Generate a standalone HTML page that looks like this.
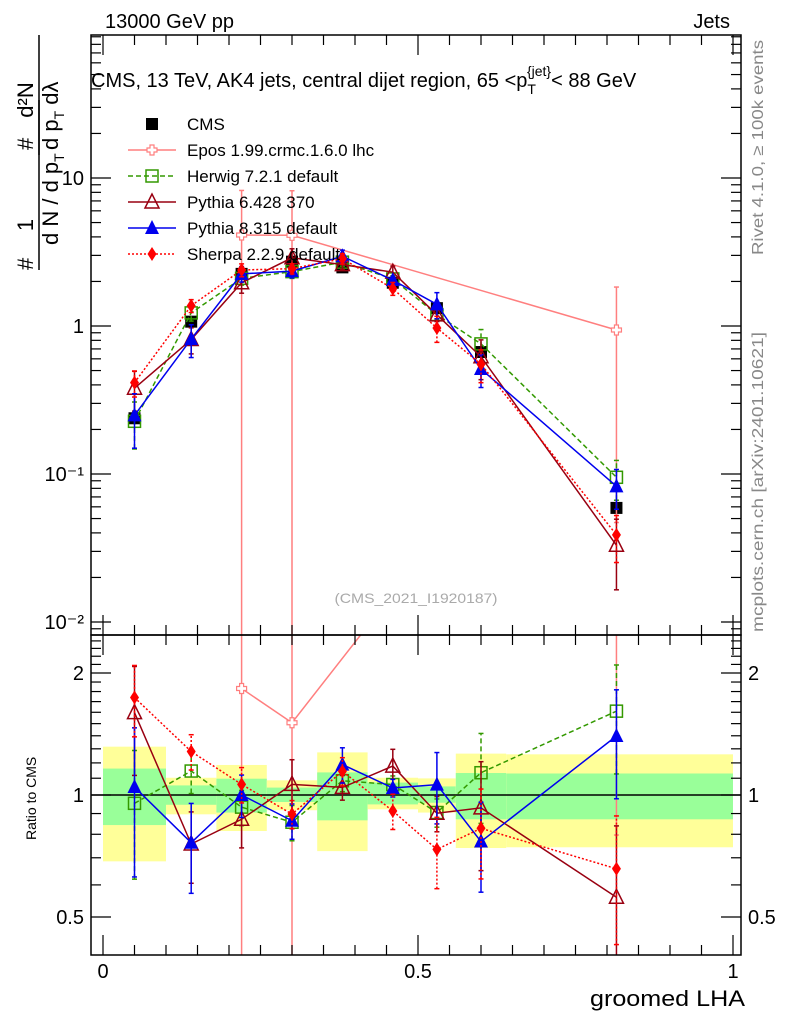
<!DOCTYPE html>
<html><head><meta charset="utf-8"><style>
html,body{margin:0;background:#fff;width:786px;height:1024px;overflow:hidden}
svg{font-family:"Liberation Sans",sans-serif;display:block}
</style></head><body>
<svg id="c" width="786" height="1024" xmlns="http://www.w3.org/2000/svg">
<rect width="786" height="1024" fill="#fff"/>
<g id="bands"></g>
<g id="marks"></g>
<g id="axes"></g>
<text x="105" y="28" font-size="20">13000 GeV pp</text>
<text x="730" y="28" font-size="20" text-anchor="end">Jets</text>
<text x="91" y="87" font-size="20">CMS, 13 TeV, AK4 jets, central dijet region, 65 &lt;p<tspan font-size="14" dy="7">T</tspan><tspan font-size="14" dy="-18" dx="-9">{jet}</tspan><tspan dy="11">&lt; 88 GeV</tspan></text>
<text x="416" y="603" font-size="14" fill="#aaa" text-anchor="middle" textLength="163" lengthAdjust="spacingAndGlyphs">(CMS_2021_I1920187)</text>
<text transform="translate(763,255) rotate(-90)" font-size="16" fill="#888" textLength="215" lengthAdjust="spacingAndGlyphs">Rivet 4.1.0, ≥ 100k events</text>
<text transform="translate(763,632) rotate(-90)" font-size="16" fill="#888" textLength="300" lengthAdjust="spacingAndGlyphs">mcplots.cern.ch [arXiv:2401.10621]</text>
<g>
<text transform="translate(33,270) rotate(-90)" font-size="22">#</text>
<text transform="translate(33,225) rotate(-90)" font-size="22" text-anchor="middle">1</text>
<line x1="39" y1="100" x2="39" y2="270" stroke="#000" stroke-width="1.5"/>
<text transform="translate(58,245) rotate(-90)" font-size="22">d N / d p<tspan font-size="14" dy="6">T</tspan></text>
<text transform="translate(33,150) rotate(-90)" font-size="22">#</text>
<text transform="translate(33,100) rotate(-90)" font-size="22" text-anchor="middle">d²N</text>
<line x1="39" y1="35" x2="39" y2="155" stroke="#000" stroke-width="1.5"/>
<text transform="translate(58,150) rotate(-90)" font-size="22">d p<tspan font-size="14" dy="6">T</tspan><tspan dy="-6"> dλ</tspan></text>
</g>
<text transform="translate(36,840) rotate(-90)" font-size="14">Ratio to CMS</text>
<text x="745" y="1006" font-size="22" text-anchor="end" textLength="155" lengthAdjust="spacingAndGlyphs">groomed LHA</text>
<g id="legend"></g>
</svg>
<script>
const binLo=[0,0.1,0.18,0.26,0.34,0.42,0.5,0.56,0.64];
const binHi=[0.1,0.18,0.26,0.34,0.42,0.5,0.56,0.64,1.0];
const xc=[0.05,0.14,0.22,0.30,0.38,0.46,0.53,0.60,0.815];
const cms=[0.238,1.07,2.25,2.72,2.49,1.96,1.32,0.667,0.059];
const cmsErr=[0.08,0.06,0.05,0.05,0.03,0.03,0.04,0.08,0.12];
const band1Lo=[0.843,0.946,0.905,0.961,0.866,0.948,0.957,0.871,0.871];
const band1Hi=[1.162,1.056,1.097,1.043,1.137,1.073,1.05,1.133,1.13];
const band2Lo=[0.686,0.896,0.815,0.917,0.727,0.922,0.905,0.74,0.743];
const band2Hi=[1.316,1.103,1.186,1.087,1.274,1.103,1.099,1.265,1.26];
const eposV=[null,null,4.12,4.1,null,null,null,null,0.94];
const eposE=[0,0,1.0,1.0,0,0,0,0,0.95];
const herwigV=[0.227,1.226,2.10,2.33,2.70,2.08,1.195,0.757,0.095];
const herwigE=[0.35,0.12,0.1,0.1,0.06,0.05,0.08,0.25,0.3];
const py6V=[0.38,0.81,1.96,2.89,2.60,2.31,1.19,0.62,0.033];
const py6E=[0.3,0.2,0.15,0.15,0.07,0.1,0.1,0.3,0.5];
const py8V=[0.249,0.816,2.25,2.35,2.96,2.04,1.40,0.512,0.0825];
const py8E=[0.4,0.25,0.12,0.1,0.1,0.05,0.2,0.25,0.3];
const sherpaV=[0.414,1.37,2.39,2.44,2.85,1.79,0.969,0.552,0.0388];
const sherpaE=[0.2,0.1,0.1,0.08,0.08,0.1,0.2,0.25,0.35];

const NS="http://www.w3.org/2000/svg";
const X=v=>103+630*v;
const Y=v=>326-148*Math.log10(v);
const R=v=>795-122*Math.log2(v);
const TOP=[35,635],RAT=[635,955];
function el(t,a,p){const e=document.createElementNS(NS,t);for(const k in a)e.setAttribute(k,a[k]);p.appendChild(e);return e;}
const bands=document.getElementById('bands'),marks=document.getElementById('marks'),axes=document.getElementById('axes'),leg=document.getElementById('legend');

for(let i=0;i<binLo.length;i++){
 const y2=el('rect',{x:X(binLo[i]),y:R(band2Hi[i]),width:X(binHi[i])-X(binLo[i]),height:R(band2Lo[i])-R(band2Hi[i]),fill:'#ffff99'},bands);
 
 
 const g1=el('rect',{x:X(binLo[i]),y:R(band1Hi[i]),width:X(binHi[i])-X(binLo[i]),height:R(band1Lo[i])-R(band1Hi[i]),fill:'#99ff99'},bands);
 
 
}
const one=el('line',{x1:91,x2:741,y1:R(1),y2:R(1),stroke:'#000','stroke-width':1.5},bands);



function marker(p,type,col,x,y){
 const s=6;
 if(type==='sq') el('rect',{x:x-s,y:y-s,width:2*s,height:2*s,fill:col},p);
 else if(type==='osq') el('rect',{x:x-s,y:y-s,width:2*s,height:2*s,fill:'none',stroke:col,'stroke-width':1.5},p);
 else if(type==='otri') el('polygon',{points:`${x},${y-8} ${x-7},${y+6} ${x+7},${y+6}`,fill:'none',stroke:col,'stroke-width':1.5},p);
 else if(type==='tri') el('polygon',{points:`${x},${y-8} ${x-7},${y+6} ${x+7},${y+6}`,fill:col},p);
 else if(type==='dia') el('polygon',{points:`${x},${y-7} ${x-4.5},${y} ${x},${y+7} ${x+4.5},${y}`,fill:col},p);
 else if(type==='cross'){el('path',{d:`M${x-2} ${y-5}h4v3h3v4h-3v3h-4v-3h-3v-4h3z`,fill:'#fff',stroke:col,'stroke-width':1.2},p);}
}
const series=[
 {name:'Epos 1.99.crmc.1.6.0 lhc',v:eposV,e:eposE,col:'#ff7f7f',dash:'',m:'cross'},
 {name:'Herwig 7.2.1 default',v:herwigV,e:herwigE,col:'#339900',dash:'5,3',m:'osq'},
 {name:'Pythia 6.428 370',v:py6V,e:py6E,col:'#990011',dash:'',m:'otri'},
 {name:'Pythia 8.315 default',v:py8V,e:py8E,col:'#0000ee',dash:'',m:'tri'},
 {name:'Sherpa 2.2.9 default',v:sherpaV,e:sherpaE,col:'#ff0000',dash:'2,2',m:'dia'}
];
function drawSeries(s,panel){
 const g=el('g',{},marks);
 
 
 const rng=panel==='main'?TOP:RAT;
 const cp=el('clipPath',{id:'cp'+panel+s.m},g);
 el('rect',{x:91,y:rng[0],width:650,height:rng[1]-rng[0]},cp);
 const inner=el('g',{'clip-path':`url(#cp${panel}${s.m})`},g);
 let pts=[];
 for(let i=0;i<xc.length;i++){
  if(s.v[i]==null) continue;
  const val=panel==='main'?s.v[i]:s.v[i]/cms[i];
  const f=panel==='main'?Y:R;
  const lo=Math.max(val*(1-s.e[i]),1e-6),hi=val*(1+s.e[i]);
  const x=X(xc[i]);
  const yl=Math.min(f(lo),2000),yh=Math.max(f(hi),-1000);
  el('line',{x1:x,x2:x,y1:yl,y2:yh,stroke:s.col,'stroke-width':1.5,'stroke-dasharray':s.dash},inner);
  el('line',{x1:x-2.5,x2:x+2.5,y1:yl,y2:yl,stroke:s.col,'stroke-width':1.5},inner);
  el('line',{x1:x-2.5,x2:x+2.5,y1:yh,y2:yh,stroke:s.col,'stroke-width':1.5},inner);
  pts.push([x,f(val)]);
 }
 el('polyline',{points:pts.map(p=>p.join(',')).join(' '),fill:'none',stroke:s.col,'stroke-width':1.5,'stroke-dasharray':s.dash},inner);
 pts.forEach(p=>marker(inner,s.m,s.col,p[0],p[1]));
}
(function(){
 const g=el('g',{},marks);
 
 
 for(let i=0;i<xc.length;i++){
  const x=X(xc[i]);
  el('line',{x1:x,x2:x,y1:Y(cms[i]*(1-cmsErr[i])),y2:Y(cms[i]*(1+cmsErr[i])),stroke:'#000','stroke-width':1.5},g);
  marker(g,'sq','#000',x,Y(cms[i]));
 }
})();
series.forEach(s=>{drawSeries(s,'main');drawSeries(s,'ratio');});

function line(x1,y1,x2,y2,w){el('line',{x1,y1,x2,y2,stroke:'#000','stroke-width':w||1.2},axes);}
const f1=el('rect',{x:91,y:35,width:650,height:600,fill:'none',stroke:'#000','stroke-width':1.5},axes);


const f2=el('rect',{x:91,y:635,width:650,height:320,fill:'none',stroke:'#000','stroke-width':1.5},axes);


const decLabels=['10⁻²','10⁻¹','1','10'];
const decVals=[0.01,0.1,1,10];
for(let d=-3;d<=2;d++){for(let m=1;m<10;m++){const v=m*Math.pow(10,d);const y=Y(v);if(y<35||y>635)continue;const L=m===1?20:10;line(91,y,91+L,y);line(741,y,741-L,y);}}
decVals.forEach((v,i)=>{const t=el('text',{x:84,y:Y(v)+7,'font-size':20,'text-anchor':'end'},axes);t.textContent=decLabels[i];
 
 });
const rTicks=[0.5,1,2];
for(let v=0.4;v<=2.5;v+=0.1){const y=R(v);if(y<635||y>955)continue;const maj=[0.5,1,2].some(q=>Math.abs(q-v)<1e-6);const L=maj?20:10;line(91,y,91+L,y);line(741,y,741-L,y);}
rTicks.forEach(v=>{[[84,'end'],[748,'start']].forEach(([x,a])=>{const t=el('text',{x,y:R(v)+7,'font-size':20,'text-anchor':a},axes);t.textContent=String(v);
 
 });});
for(let k=0;k<=20;k++){const v=k*0.05;const x=X(v);const L=k%10===0?20:10;line(x,955,x,955-L);line(x,635,x,635+L);line(x,35,x,35+L);line(x,635,x,635-L);}
[0,0.5,1].forEach(v=>{const t=el('text',{x:X(v),y:978,'font-size':20,'text-anchor':'middle'},axes);t.textContent=String(v);
 
 });

const legItems=[{name:'CMS',col:'#000',m:'sq',dash:'',line:false}].concat(series.map(s=>({name:s.name,col:s.col,m:s.m,dash:s.dash,line:true})));
legItems.forEach((it,i)=>{
 const y=124+i*26;
 const g=el('g',{},leg);
 
 
 if(it.line) el('line',{x1:128,x2:176,y1:y,y2:y,stroke:it.col,'stroke-width':1.5,'stroke-dasharray':it.dash},g);
 marker(g,it.m,it.col,152,y);
 const t=el('text',{x:187,y:y+6,'font-size':17},g);t.textContent=it.name;
});
</script>
</body></html>
